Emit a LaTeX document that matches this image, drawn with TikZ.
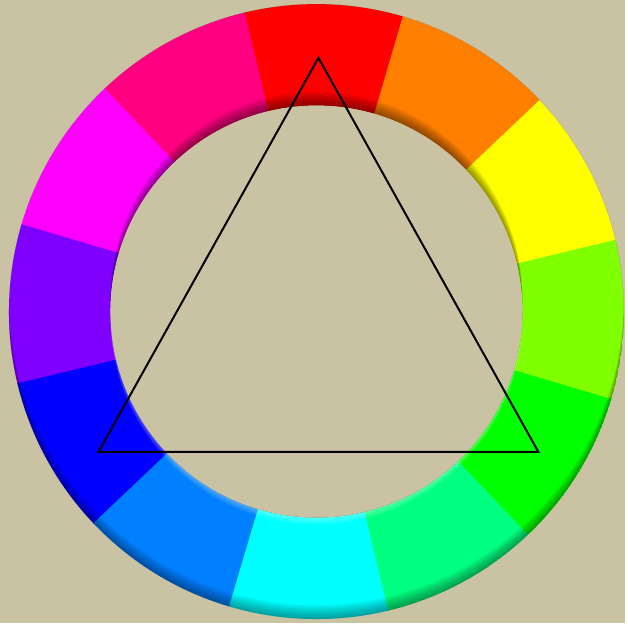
\documentclass[tikz,border=0pt]{standalone}
\usepackage{tikz}
\usetikzlibrary{calc}
\definecolor{paper}{HTML}{C9C2A3}
\definecolor{wheelred}{HTML}{FF0000}
\definecolor{wheelrose}{HTML}{FF0080}
\definecolor{wheelmagenta}{HTML}{FF00FF}
\definecolor{wheelviolet}{HTML}{8000FF}
\definecolor{wheelblue}{HTML}{0000FF}
\definecolor{wheelazure}{HTML}{0080FF}
\definecolor{wheelcyan}{HTML}{00FFFF}
\definecolor{wheelspring}{HTML}{00FF80}
\definecolor{wheelgreen}{HTML}{00FF00}
\definecolor{wheelchartreuse}{HTML}{80FF00}
\definecolor{wheelyellow}{HTML}{FFFF00}
\definecolor{wheelorange}{HTML}{FF8000}
\newcommand{\Rout}{309}
\newcommand{\rin}{207}
\begin{document}
\begin{tikzpicture}[x=1pt, y=1pt, triangle/.style={draw=black, line width=2pt, line join=miter}]
          \fill[paper] (0,0) rectangle (628,626);
          \coordinate (c) at (318,313);
          % twelve hues, red at the top
          \foreach \col [count=\i] in {wheelred, wheelrose, wheelmagenta, wheelviolet, wheelblue, wheelazure, wheelcyan, wheelspring, wheelgreen, wheelchartreuse, wheelyellow, wheelorange} {
            \pgfmathsetmacro{\a}{73.5+30*(\i-1)}
            \fill[\col] ($(c)+(\a:\Rout)$) arc[start angle=\a, delta angle=30.2, radius=\Rout]
              -- ($(c)+({\a+30.2}:\rin)$) arc[start angle=\a+30.2, delta angle=-30.2, radius=\rin] -- cycle;
          }
          % bevel shading
          \begin{scope}
            \clip (c) circle (\Rout);
            \foreach \s in {2,4,...,14} {
              \fill[black, opacity=0.07, even odd rule] ($(c)+(0,\s)$) circle (\rin) (c) circle (\rin);
              \fill[black, opacity=0.06, even odd rule] ($(c)+(0,\s)$) circle (\Rout) (c) circle (\Rout);
              \fill[white, opacity=0.05, even odd rule] ($(c)+(0,-\s/2)$) circle (\rin) (c) circle (\rin);
            }
          \end{scope}
          \fill[paper] (c) circle (\rin);
          \coordinate (top) at (320,568);
          \coordinate (left) at (99,172);
          \coordinate (right) at (541,172);
          \draw[triangle] (top) -- (right) -- (left) -- cycle;
        \end{tikzpicture}
\end{document}
